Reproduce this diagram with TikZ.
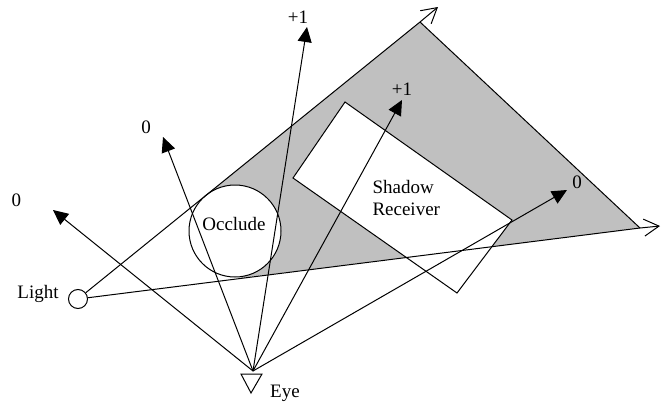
\documentclass[tikz,border=0pt]{standalone}
\usepackage{fontspec}
\setmainfont{Liberation Serif}
\usetikzlibrary{arrows.meta}
\definecolor{shadowgray}{RGB}{192,192,192}
\tikzset{
  ray/.style={-{Triangle[length=15pt,width=14pt]}},
  shadowline/.style={-{Straight Barb[length=15pt,width=17pt]}},
  lbl/.style={inner sep=0pt, anchor=base, font=\fontsize{19}{22}\selectfont},
}
\begin{document}
\begin{tikzpicture}[x=1pt,y=-1pt,line width=1pt]
\useasboundingbox (0,0) rectangle (665,407);
% key points
\coordinate (L) at (78,299);
\coordinate (V1) at (420,22);
\coordinate (V2) at (640,228);
\coordinate (U) at (438,7);
\coordinate (W) at (660,226);
\coordinate (T1) at (206,195);
\coordinate (T2) at (241,278);
\coordinate (O) at (235,231);
\coordinate (RA) at (293,178);
\coordinate (RB) at (345,102);
\coordinate (RC) at (512,220);
\coordinate (RD) at (457,293);
\coordinate (eye) at (253,371);
\coordinate (tipA) at (53,210);
\coordinate (tipB) at (163,137);
\coordinate (tipC) at (307,27);
\coordinate (tipD) at (402,100);
\coordinate (tipE) at (567,190);
% shadow volume
\fill[shadowgray] (T1) -- (V1) -- (V2) -- (T2) -- (O) -- cycle;
\draw (V1) -- (V2);
% receiver
\draw[fill=white] (RA) -- (RB) -- (RC) -- (RD) -- cycle;
% occluder
\node[circle, draw, fill=white, minimum size=92pt, inner sep=0pt] (occ) at (O) {};
% light
\node[circle, draw, fill=white, minimum size=19pt, inner sep=0pt] (light) at (L) {};
% shadow edges
\draw[shadowline] (light) -- (V1) -- (U);
\draw[shadowline] (light) -- (V2) -- (W);
% rays
\draw[ray] (eye) -- (tipA);
\draw[ray] (eye) -- (tipB);
\draw[ray] (eye) -- (tipC);
\draw[ray] (eye) -- (tipD);
\draw[ray] (eye) -- (tipE);
% eye symbol
\draw[line join=miter] (241,374) -- (262,374) -- (251,393) -- cycle;
% labels
\node[lbl] (lLight) at (38,298) {Light};
\node[lbl] (lEye) at (285,397) {Eye};
\node[lbl] (lOcc) at (234,230) {Occlude};
\node[lbl, anchor=base west, align=left] (lRec) at (372,215) {Shadow\\Receiver};
\node[lbl] (nA) at (16.5,206) {0};
\node[lbl] (nB) at (146,133) {0};
\node[lbl] (nC) at (298,23) {+1};
\node[lbl] (nD) at (402,95) {+1};
\node[lbl] (nE) at (577,188) {0};
\end{tikzpicture}
\end{document}
